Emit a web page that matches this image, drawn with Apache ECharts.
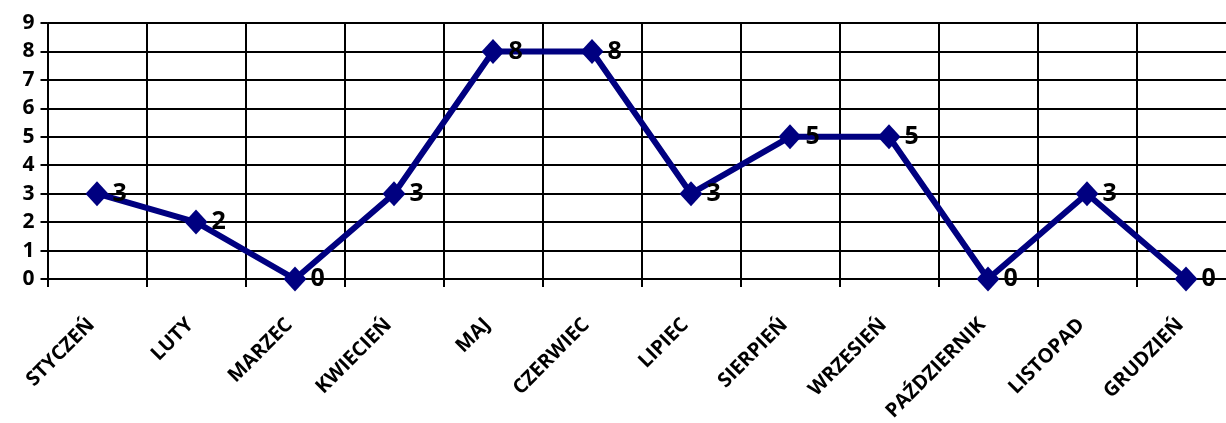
<!DOCTYPE html>
<html>
<head>
<meta charset="utf-8">
<script src="https://cdn.jsdelivr.net/npm/echarts@6/dist/echarts.min.js"></script>
<style>html,body{margin:0;padding:0;background:#fff;}#c{width:1226px;height:423px;}</style>
</head>
<body>
<div id="c"></div>
<script>
const categories = ['STYCZEŃ','LUTY','MARZEC','KWIECIEŃ','MAJ','CZERWIEC','LIPIEC','SIERPIEŃ','WRZESIEŃ','PAŹDZIERNIK','LISTOPAD','GRUDZIEŃ'];
const values = [3,2,0,3,8,8,3,5,5,0,3,0];
const yMin = 0, yMax = 9, yStep = 1;

const chart = echarts.init(document.getElementById('c'), null, {renderer:'canvas'});
const font = '"Open Sans", Calibri, sans-serif';
chart.setOption({
  animation:false,
  backgroundColor:'#fff',
  grid:{left:47.5, width:1188, top:23, bottom:144, containLabel:false, outerBoundsMode:'none'},
  xAxis:{
    type:'category', data:categories, boundaryGap:true,
    axisLine:{show:true, lineStyle:{color:'#000', width:2}},
    axisTick:{show:true, length:8, alignWithLabel:false, lineStyle:{color:'#000', width:2}},
    splitLine:{show:true, lineStyle:{color:'#000', width:2}},
    axisLabel:{rotate:45, interval:0, margin:37, padding:[0,8,0,0], color:'#000', fontFamily:font, fontWeight:'bold', fontSize:20}
  },
  yAxis:{
    type:'value', min:yMin, max:yMax, interval:yStep,
    axisLine:{show:true, lineStyle:{color:'#000', width:2}},
    axisTick:{show:true, length:7, lineStyle:{color:'#000', width:2}},
    splitLine:{show:true, lineStyle:{color:'#000', width:2}},
    axisLabel:{margin:13, color:'#000', fontFamily:font, fontWeight:'bold', fontSize:21}
  },
  series:[{
    type:'line', data:values,
    lineStyle:{color:'#000080', width:6},
    itemStyle:{color:'#000080'},
    symbol:'diamond', symbolSize:[23,25],
    label:{show:true, position:'right', distance:4, color:'#000', fontFamily:font, fontWeight:'bold', fontSize:25}
  }]
});
</script>
</body>
</html>
